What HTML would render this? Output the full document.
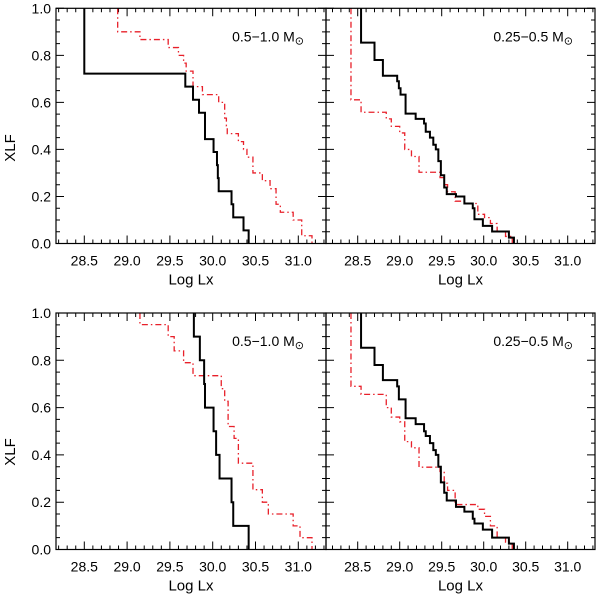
<!DOCTYPE html>
<html><head><meta charset="utf-8"><style>
body{margin:0;background:#fff;}
svg{display:block;font-family:"Liberation Sans",sans-serif;}
</style></head><body>
<svg id="c" width="600" height="596"></svg>
<script>
// Data: step drop positions (Log Lx) and level after each drop
const tlBlackX=[28.5,29.68,29.77,29.84,29.91,30.01,30.05,30.06,30.07,30.22,30.24,30.36,30.42];
const tlBlackY=[0.722,0.667,0.611,0.556,0.444,0.389,0.333,0.278,0.222,0.167,0.111,0.056,0];
const tlRedX=[28.89,29.15,29.48,29.60,29.66,29.69,29.77,29.88,30.07,30.14,30.16,30.17,30.30,30.36,30.40,30.47,30.58,30.67,30.74,30.79,30.94,31.04,31.16];
const tlRedY=[0.90,0.867,0.833,0.80,0.767,0.733,0.667,0.633,0.60,0.533,0.50,0.467,0.433,0.40,0.367,0.30,0.267,0.233,0.167,0.133,0.10,0.033,0];
const trBlackX=[28.54,28.70,28.80,28.97,28.99,29.01,29.07,29.19,29.29,29.31,29.36,29.40,29.43,29.46,29.49,29.53,29.56,29.67,29.77,29.87,29.89,29.99,30.10,30.30,30.36];
const trBlackY=[0.854,0.78,0.713,0.69,0.66,0.633,0.552,0.53,0.51,0.475,0.45,0.42,0.40,0.35,0.29,0.238,0.21,0.20,0.17,0.15,0.103,0.075,0.051,0.025,0];
const trRedX=[28.42,28.54,28.84,28.90,29.00,29.06,29.14,29.23,29.48,29.53,29.57,29.66,29.77,29.93,30.01,30.08,30.16,30.26,30.34];
const trRedY=[0.611,0.558,0.53,0.498,0.47,0.40,0.37,0.303,0.28,0.25,0.22,0.18,0.17,0.124,0.11,0.085,0.05,0.03,0];
const blBlackX=[29.78,29.85,29.90,29.91,30.01,30.04,30.08,30.22,30.24,30.42];
const blBlackY=[0.90,0.80,0.70,0.60,0.50,0.40,0.30,0.20,0.10,0];
const blRedX=[29.15,29.48,29.55,29.66,29.77,30.10,30.14,30.18,30.25,30.30,30.47,30.58,30.65,30.94,31.02,31.16];
const blRedY=[0.951,0.90,0.84,0.79,0.735,0.68,0.627,0.52,0.47,0.365,0.253,0.20,0.15,0.10,0.05,0];
const brBlackX=[28.54,28.70,28.80,28.97,28.99,29.07,29.19,29.29,29.31,29.36,29.40,29.43,29.46,29.49,29.53,29.56,29.67,29.77,29.87,29.89,29.99,30.10,30.30,30.36];
const brBlackY=[0.853,0.78,0.716,0.69,0.635,0.555,0.53,0.50,0.48,0.45,0.42,0.40,0.35,0.284,0.24,0.207,0.18,0.16,0.13,0.11,0.084,0.05,0.025,0];
const brRedX=[28.42,28.54,28.84,28.90,29.00,29.06,29.14,29.23,29.48,29.53,29.57,29.66,29.93,30.01,30.08,30.16,30.26,30.34];
const brRedY=[0.69,0.656,0.60,0.56,0.54,0.456,0.43,0.348,0.33,0.28,0.25,0.19,0.17,0.14,0.10,0.05,0.03,0];
const xTicks=["28.5","29.0","29.5","30.0","30.5","31.0"];
const yTicks=["0.0","0.2","0.4","0.6","0.8","1.0"];

const NS="http://www.w3.org/2000/svg";
const svg=document.getElementById('c');
function mk(tag,attrs,parent){const e=document.createElementNS(NS,tag);for(const k in attrs)e.setAttribute(k,attrs[k]);(parent||svg).appendChild(e);return e;}

function panel(name,left,right,top,bottom,off,scale,showY,title,bx,by,rx,ry){
  const g=mk('g',{});
  
  
  const xs=v=>left+off+scale*(v-28.5);
  const ys=v=>bottom-(bottom-top)*v;
  // ticks
  let t='';
  for(let v=28.2;v<=31.35;v+=0.1){const r=Math.round(v*10)/10;const x=xs(r);if(x<left+1||x>right-1)continue;const L=(Math.abs(r*2-Math.round(r*2))<1e-6)?8:4;t+=`M${x} ${bottom}v${-L}M${x} ${top}v${L}`;}
  for(let i=0;i<=20;i++){const y=ys(i*0.05);const L=(i%4===0)?8:4;t+=`M${left} ${y}h${L}M${right} ${y}h${-L}`;}
  const tk=mk('path',{d:t,stroke:'#000','stroke-width':1,fill:'none'},g);
  
  
  xTicks.forEach(s=>{const tx=mk('text',{x:xs(parseFloat(s)),y:bottom+22,'font-size':14,'text-anchor':'middle'},g);tx.textContent=s;
    
    });
  if(showY){yTicks.forEach(s=>{const ty=mk('text',{x:left-5,y:ys(parseFloat(s))+5,'font-size':14,'text-anchor':'end'},g);ty.textContent=s;
    
    });}
  const xl=mk('text',{x:(left+right)/2,y:bottom+41,'font-size':15,'text-anchor':'middle'},g);xl.textContent='Log Lx';
  
  
  function step(X,Y,color,dash,nm){
    let d=`M${xs(X[0])} ${top}`;
    for(let i=0;i<X.length;i++){d+=`L${xs(X[i])} ${ys(Y[i])}`;if(i+1<X.length)d+=`L${xs(X[i+1])} ${ys(Y[i])}`;}
    const p=mk('path',{d:d,stroke:color,'stroke-width':color==='#000'?2:1.3,fill:'none','stroke-dasharray':dash},g);
    
    
  }
  step(rx,ry,'#e8202a','6 3 1.5 3','red-dashdot-series');
  step(bx,by,'#000','none','black-solid-series');
  const fr=mk('rect',{x:left,y:top,width:right-left,height:bottom-top,fill:'none',stroke:'#000','stroke-width':1.2},g);
  
  
  const tt=mk('text',{x:right-22,y:top+33,'font-size':14,'text-anchor':'end'},g);
  tt.textContent=title+' M';
  const sun=mk('tspan',{'font-size':11,dy:3},tt);sun.textContent='⊙';
  
  
}
panel('panel-top-left',56,326,8.3,243.5,28.3,85.6,true,'0.5\u22121.0',tlBlackX,tlBlackY,tlRedX,tlRedY);
panel('panel-top-right',326,595,8.3,243.5,31.7,84,false,'0.25\u22120.5',trBlackX,trBlackY,trRedX,trRedY);
panel('panel-bottom-left',56,326,313,549.5,28.3,85.6,true,'0.5\u22121.0',blBlackX,blBlackY,blRedX,blRedY);
panel('panel-bottom-right',326,595,313,549.5,31.7,84,false,'0.25\u22120.5',brBlackX,brBlackY,brRedX,brRedY);
[[148,'y-axis-title-top'],[452,'y-axis-title-bottom']].forEach(([y,n])=>{
  const t=mk('text',{x:15,y:y,'font-size':15,'text-anchor':'middle',transform:`rotate(-90 15 ${y})`});
  t.textContent='XLF';
  
  
});
</script>
</body></html>
